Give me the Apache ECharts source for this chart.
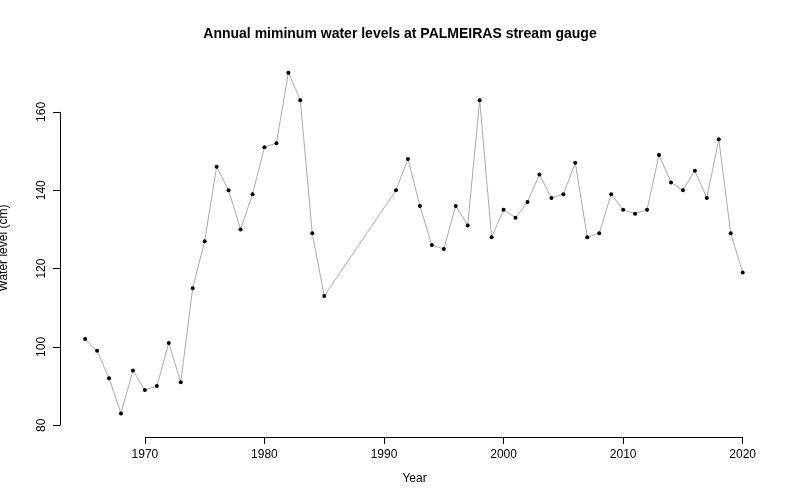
<!DOCTYPE html>
<html>
<head>
<meta charset="utf-8">
<script src="https://cdn.jsdelivr.net/npm/echarts@6/dist/echarts.min.js"></script>
<style>html,body{margin:0;background:#fff}#chart{width:800px;height:500px}</style>
</head>
<body>
<div id="chart"></div>
<script>
// annual minimum levels (cm)
const years = [1965,1966,1967,1968,1969,1970,1971,1972,1973,1974,1975,1976,1977,1978,1979,1980,1981,1982,1983,1984,1985,
  1991,1992,1993,1994,1995,1996,1997,1998,1999,2000,2001,2002,2003,2004,2005,2006,2007,2008,2009,2010,2011,2012,2013,2014,2015,2016,2017,2018,2019,2020];
const levels = [102,99,92,83,94,89,90,101,91,115,127,146,140,130,139,151,152,170,163,129,113,
  140,148,136,126,125,136,131,163,128,135,133,137,144,138,139,147,128,129,139,135,134,135,149,142,140,145,138,153,129,119];
const xTicks = [1970, 1980, 1990, 2000, 2010, 2020];
const yTicks = [80, 100, 120, 140, 160];

const xMin = 1962.9, xMax = 2022.2, yMin = 77, yMax = 173.5;
const font = 'Liberation Sans, Arial, sans-serif';

let chart = echarts.init(document.getElementById('chart'));
chart.setOption({
  animation: false,
  title: {
    text: 'Annual miminum water levels at PALMEIRAS stream gauge',
    left: 'center', top: 22,
    textStyle: { fontFamily: font, fontSize: 14, fontWeight: 'bold', color: '#000' }
  },
  grid: { left: 60, right: 31, top: 59, bottom: 63, containLabel: false, outerBoundsMode: 'none' },
  xAxis: {
    type: 'value', min: xMin, max: xMax,
    name: 'Year', nameLocation: 'middle', nameGap: 36,
    nameTextStyle: { fontFamily: font, fontSize: 12, color: '#000' },
    axisLine: { show: false },
    axisTick: { show: true, length: 7, lineStyle: { color: '#000' }, customValues: xTicks },
    axisLabel: { fontFamily: font, fontSize: 12, color: '#000', margin: 12,
      customValues: xTicks, formatter: v => String(v) },
    splitLine: { show: false }
  },
  yAxis: {
    type: 'value', min: yMin, max: yMax,
    name: 'Water level (cm)', nameLocation: 'middle', nameGap: 50,
    nameTextStyle: { fontFamily: font, fontSize: 12, color: '#000' },
    axisLine: { show: false },
    axisTick: { show: true, length: 7, lineStyle: { color: '#000' }, customValues: yTicks },
    axisLabel: { fontFamily: font, fontSize: 12, color: '#000', rotate: 90, margin: 12,
      customValues: yTicks, formatter: v => String(v) },
    splitLine: { show: false }
  },
  series: [{
    type: 'line',
    data: years.map((y, i) => [y, levels[i]]),
    symbol: 'circle', symbolSize: 4,
    itemStyle: { color: '#000' },
    lineStyle: { color: '#aaa', width: 1 },
    markLine: {
      silent: true, symbol: 'none', label: { show: false },
      lineStyle: { color: '#000', width: 1, type: 'solid' },
      data: [
        [{ coord: [xTicks[0], yMin] }, { coord: [xTicks[xTicks.length - 1], yMin] }],
        [{ coord: [xMin, yTicks[0]] }, { coord: [xMin, yTicks[yTicks.length - 1]] }]
      ]
    }
  }]
});
</script>
</body>
</html>
